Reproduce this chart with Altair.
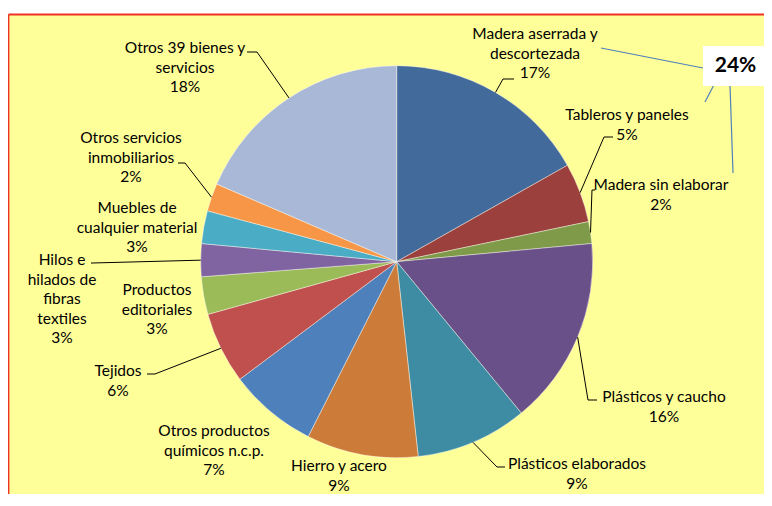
import altair as alt
import pandas as pd

# ---------------- data ----------------
categories = [
    "Madera aserrada y descortezada", "Tableros y paneles", "Madera sin elaborar",
    "Plásticos y caucho", "Plásticos elaborados", "Hierro y acero",
    "Otros productos químicos n.c.p.", "Tejidos", "Productos editoriales",
    "Hilos e hilados de fibras textiles", "Muebles de cualquier material",
    "Otros servicios inmobiliarios", "Otros 39 bienes y servicios",
]
shares = [16.8, 4.9, 1.8, 15.5, 9.2, 9.2, 7.3, 5.9, 3.1, 2.7, 2.7, 2.3, 18.5]
pct_labels = ["17%", "5%", "2%", "16%", "9%", "9%", "7%", "6%", "3%", "3%", "3%", "2%", "18%"]
label_lines = [
    "Madera aserrada y\ndescortezada", "Tableros y paneles", "Madera sin elaborar",
    "Plásticos y caucho", "Plásticos elaborados", "Hierro y acero",
    "Otros productos\nquímicos n.c.p.", "Tejidos", "Productos\neditoriales",
    "Hilos e\nhilados de\nfibras\ntextiles", "Muebles de\ncualquier material",
    "Otros servicios\ninmobiliarios", "Otros 39 bienes y\nservicios",
]
group_total_label = "24%"

# ---------------- styles / layout ----------------
colors = ["#426A9A", "#9C403E", "#7F9A48", "#6A5089", "#3E8CA4", "#CD7B38",
          "#4E80BC", "#C0504D", "#9BBB59", "#8064A2", "#4BACC6", "#F79646", "#A9B8D6"]
OFF = 8  # page margin
W, H = 756, 486
CX, CY, R = 396.7 - OFF, 261.7 - OFF, 196
FS, LH = 15.5, 19.5

# label centre x and first-line centre y (page px)
label_pos = [(535, 34), (627, 115), (661, 185), (664, 397), (577, 464), (339, 466),
             (214, 431), (118, 371), (157, 290), (62, 260), (137, 208), (131, 138), (185, 48)]
# leader elbow and end (page px), None = no leader
leaders = [((503, 79), (514, 79)), ((604, 137), (613, 137)), ((592, 190), (595, 190)),
           ((588, 400), (597, 400)), ((497, 467), (505, 467)), None, None,
           ((155, 374), (147, 374)), None, ((93, 263), (91, 263)), None,
           ((185, 163), (178, 163)), ((257, 52), (247, 52))]
blue_lines = [((601, 48), (703, 68)), ((705, 102), (717, 79)), ((733, 173), (730, 85))]
box = (703, 46, 768, 86)

rows = []
for i, c in enumerate(categories):
    lx, ly = label_pos[i]
    ld = leaders[i]
    rows.append(dict(
        idx=i, cat=c, value=shares[i],
        text=label_lines[i] + "\n" + pct_labels[i],
        lx=lx - OFF, ly=ly - OFF - 0.44 * FS,
        has_leader=ld is not None,
        ex=(ld[0][0] - OFF) if ld else None, ey=(ld[0][1] - OFF) if ld else None,
        hx=(ld[1][0] - OFF) if ld else None, hy=(ld[1][1] - OFF) if ld else None,
    ))
df = pd.DataFrame(rows)

# yellow panel with red frame on top and left only
bg = alt.Chart(pd.DataFrame({"a": [0]})).mark_rect(fill="#FFFF99").encode(
    x=alt.value(0), x2=alt.value(W), y=alt.value(6), y2=alt.value(H))
frame_df = pd.DataFrame({"x": [0.5, 0.5], "y": [H, 6.5], "x2": [0.5, W], "y2": [6.5, 6.5]})
frame = alt.Chart(frame_df).mark_rule(color="#EE3124", strokeWidth=1.8).encode(
    x=alt.X("x:Q", scale=None, axis=None), y=alt.Y("y:Q", scale=None, axis=None),
    x2="x2:Q", y2="y2:Q")

arcs = alt.Chart(df).mark_arc(
    outerRadius=R, stroke="white", strokeWidth=0.6, strokeOpacity=0.7
).encode(
    theta=alt.Theta("value:Q", stack=True),
    order=alt.Order("idx:Q"),
    color=alt.Color("cat:N", scale=alt.Scale(domain=categories, range=colors), legend=None),
    x=alt.value(CX), y=alt.value(CY),
)

lead_base = alt.Chart(df).transform_joinaggregate(
    total="sum(value)"
).transform_window(
    cum="sum(value)", sort=[alt.SortField("idx")], frame=[None, 0]
).transform_calculate(
    mid="(datum.cum - datum.value/2)/datum.total*2*PI",
    sx=f"{CX} + {R}*sin(datum.mid)",
    sy=f"{CY} - {R}*cos(datum.mid)",
).transform_filter("datum.has_leader")

seg1 = lead_base.mark_rule(color="black", strokeWidth=1).encode(
    x=alt.X("sx:Q", scale=None, axis=None), y=alt.Y("sy:Q", scale=None, axis=None),
    x2="ex:Q", y2="ey:Q",
)
seg2 = alt.Chart(df).transform_filter("datum.has_leader").mark_rule(
    color="black", strokeWidth=1
).encode(
    x=alt.X("ex:Q", scale=None, axis=None), y=alt.Y("ey:Q", scale=None, axis=None),
    x2="hx:Q", y2="hy:Q",
)

texts = alt.Chart(df).transform_calculate(
    lines="split(datum.text, '\\n')"
).mark_text(
    align="center", baseline="top", font="Lato", fontSize=FS, lineHeight=LH, color="black"
).encode(
    x=alt.X("lx:Q", scale=None, axis=None), y=alt.Y("ly:Q", scale=None, axis=None),
    text="lines:N",
)

bl = pd.DataFrame([dict(x=a[0] - OFF, y=a[1] - OFF, x2=b[0] - OFF, y2=b[1] - OFF) for a, b in blue_lines])
blue = alt.Chart(bl).mark_rule(color="#4F81BD", strokeWidth=1.2).encode(
    x=alt.X("x:Q", scale=None, axis=None), y=alt.Y("y:Q", scale=None, axis=None),
    x2="x2:Q", y2="y2:Q",
)

bx = pd.DataFrame([dict(x=box[0] - OFF, y=box[1] - OFF, x2=min(box[2] - OFF, W), y2=box[3] - OFF,
                        cx=(box[0] + box[2]) / 2 - OFF, cy=(box[1] + box[3]) / 2 - OFF,
                        t=group_total_label)])
boxrect = alt.Chart(bx).mark_rect(fill="white").encode(
    x=alt.X("x:Q", scale=None, axis=None), y=alt.Y("y:Q", scale=None, axis=None),
    x2="x2:Q", y2="y2:Q",
)
boxtext = alt.Chart(bx).mark_text(
    align="center", baseline="middle", font="Lato", fontSize=21, fontWeight="bold", color="black"
).encode(
    x=alt.X("cx:Q", scale=None, axis=None), y=alt.Y("cy:Q", scale=None, axis=None),
    text="t:N",
)

chart = alt.layer(bg, frame, arcs, seg1, seg2, blue, texts, boxrect, boxtext).properties(
    width=W, height=H, padding=0, autosize="none", background="white"
).configure_view(stroke=None)

chart.save("out.html", embed_options={"renderer": "svg", "actions": False})
